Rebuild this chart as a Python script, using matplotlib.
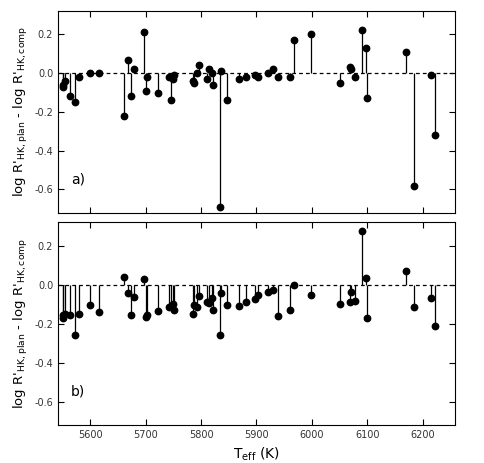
import numpy as np
import matplotlib
matplotlib.use("Agg")
import matplotlib.pyplot as plt

plt.rcParams['axes.unicode_minus'] = False
plt.rcParams['font.family'] = ['DejaVu Sans']

teff = np.array([5551, 5551, 5555, 5564, 5572, 5580, 5599, 5616, 5661, 5668,
                 5673, 5679, 5697, 5701, 5703, 5723, 5742, 5746, 5749, 5751,
                 5786, 5787, 5793, 5796, 5810, 5814, 5820, 5822, 5835, 5836,
                 5847, 5869, 5881, 5897, 5903, 5920, 5930, 5938, 5961, 5967,
                 5998, 6051, 6068, 6071, 6077, 6090, 6098, 6100, 6169, 6185,
                 6214, 6222])

# panel a)
diff_a = np.array([-0.06, -0.07, -0.04, -0.12, -0.15, -0.02, 0.00, 0.00, -0.22, 0.07,
                   -0.12, 0.02, 0.21, -0.09, -0.02, -0.10, -0.02, -0.14, -0.03, -0.01,
                   -0.04, -0.05, 0.00, 0.04, -0.03, 0.02, 0.00, -0.06, -0.69, 0.01,
                   -0.14, -0.03, -0.02, -0.01, -0.02, 0.00, 0.02, -0.02, -0.02, 0.17,
                   0.20, -0.05, 0.03, 0.02, -0.02, 0.22, 0.13, -0.13, 0.11, -0.58,
                   -0.01, -0.32])

# panel b)
diff_b = np.array([-0.154, -0.17, -0.15, -0.157, -0.26, -0.15, -0.106, -0.14, 0.04, -0.043,
                   -0.154, -0.065, 0.03, -0.166, -0.154, -0.137, -0.116, -0.11, -0.10, -0.128,
                   -0.149, -0.106, -0.113, -0.056, -0.089, -0.096, -0.068, -0.128, -0.26, -0.044,
                   -0.103, -0.109, -0.089, -0.075, -0.053, -0.038, -0.027, -0.162, -0.132, 0.0,
                   -0.055, -0.099, -0.089, -0.038, -0.082, 0.275, 0.034, -0.171, 0.072, -0.116,
                   -0.068, -0.21])

fig = plt.figure(figsize=(4.85, 4.63), dpi=100)
ax1 = fig.add_axes([0.1196, 0.5406, 0.8184, 0.4354])
ax2 = fig.add_axes([0.1196, 0.082, 0.8184, 0.438])

ylabel = r"log R'$_{\mathregular{HK,plan}}$ - log R'$_{\mathregular{HK,comp}}$"

for ax, d, tag in [(ax1, diff_a, "a)"), (ax2, diff_b, "b)")]:
    ax.vlines(teff, 0, d, color='black', lw=0.9)
    ax.plot(teff, d, 'o', color='black', ms=4.6)
    ax.axhline(0, color='black', ls=(0, (3, 2.5)), lw=0.9)
    ax.set_xlim(5542, 6258)
    ax.set_ylim(-0.72, 0.32)
    ax.set_xticks([5600, 5700, 5800, 5900, 6000, 6100, 6200])
    ax.set_yticks([0.2, 0.0, -0.2, -0.4, -0.6])
    ax.tick_params(direction='in', top=True, right=True, length=4,
                   labelsize=7, labelcolor='#333333')
    ax.set_ylabel(ylabel, fontsize=9.5, labelpad=3)
    ax.text(5565, -0.57, tag, fontsize=10)
    for s in ax.spines.values():
        s.set_linewidth(0.8)

ax1.tick_params(labelbottom=False)
ax2.set_xlabel(r"T$_{\mathregular{eff}}$ (K)", fontsize=10)

fig.savefig("out.png", dpi=100)
